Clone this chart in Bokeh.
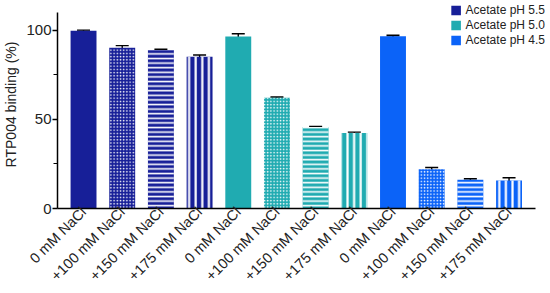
import math
from bokeh.plotting import figure
from bokeh.models import (ColumnDataSource, Range1d, FixedTicker, Whisker,
                          Legend, LegendItem)
from bokeh.embed import file_html
from bokeh.resources import INLINE

# ---- data ----
conditions = ["0 mM NaCl", "+100 mM NaCl", "+150 mM NaCl", "+175 mM NaCl"]
buffers = ["Acetate pH 5.5", "Acetate pH 5.0", "Acetate pH 4.5"]
binding_ph55 = [99.8, 90.3, 89.0, 85.2]
binding_ph50 = [96.6, 62.2, 45.8, 42.4]
binding_ph45 = [96.8, 22.0, 16.2, 15.8]
err_ph55 = [0.4, 1.2, 0.5, 1.0]
err_ph50 = [1.6, 0.4, 0.3, 0.5]
err_ph45 = [0.5, 1.0, 0.5, 1.5]

colors = ["#171f98", "#20abb1", "#0b63f8"]
patterns = [" ", ".", "-", "|"]
pattern_scales = [4, 3.2, 4.6, 6.6]
pattern_weights = [1, 0.9, 1.6, 2.2]

values = binding_ph55 + binding_ph50 + binding_ph45
errors = err_ph55 + err_ph50 + err_ph45
n = len(values)
xs = list(range(n))
labels = conditions * 3
fill = [colors[i // 4] for i in range(n)]
hp = [patterns[i % 4] for i in range(n)]
hs = [pattern_scales[i % 4] for i in range(n)]
hw = [pattern_weights[i % 4] for i in range(n)]

src = ColumnDataSource(dict(
    x=xs, top=values, fill=fill, hp=hp, hs=hs, hw=hw,
    upper=[v + e for v, e in zip(values, errors)],
    lower=[v - e for v, e in zip(values, errors)],
))

FONT = "Liberation Sans"
TXT = "#222222"

p = figure(width=550, height=293, output_backend="svg", toolbar_location=None,
           x_range=Range1d(-0.673, 12.02), y_range=Range1d(0, 116.85),
           min_border_left=48, min_border_right=2, min_border_top=0,
           min_border_bottom=85)
p.outline_line_color = None
p.xgrid.grid_line_color = None
p.ygrid.grid_line_color = None
p.background_fill_color = "white"

p.vbar(x="x", top="top", width=0.67, source=src, fill_color="fill",
       line_color=None, hatch_pattern="hp", hatch_color="white",
       hatch_scale="hs", hatch_weight="hw")

w = Whisker(base="x", upper="upper", lower="lower", source=src,
            line_color="black", line_width=1.4)
for h in (w.upper_head, w.lower_head):
    h.size = 13
    h.line_width = 1.4
    h.line_color = "black"
p.add_layout(w)

# legend proxies (drawn outside the visible range)
items = []
for b, c in zip(buffers, colors):
    r = p.vbar(x=[-50], top=[1], width=0.5, fill_color=c, line_color=None)
    items.append(LegendItem(label=b, renderers=[r]))
leg = Legend(items=items, location="top_right", margin=3, padding=0,
             spacing=1, glyph_width=12, glyph_height=12, label_standoff=4,
             label_height=12,
             label_text_font=FONT, label_text_font_size="12px",
             label_text_color=TXT, border_line_color=None,
             background_fill_alpha=0)
p.add_layout(leg)

# y axis
ya = p.yaxis[0]
ya.ticker = FixedTicker(ticks=[0, 50, 100], minor_ticks=[25, 75])
ya.bounds = (0, 110)
ya.axis_label = "RTP004 binding (%)"
ya.axis_label_text_font = FONT
ya.axis_label_text_font_style = "normal"
ya.axis_label_text_font_size = "14px"
ya.axis_label_text_color = TXT
ya.axis_label_standoff = 4
ya.major_label_text_font = FONT
ya.major_label_text_font_size = "15px"
ya.major_label_text_color = TXT
ya.major_label_standoff = 1
ya.axis_line_width = 1.5
ya.axis_line_color = "black"
ya.major_tick_out = 5
ya.major_tick_in = 0
ya.minor_tick_out = 4
ya.minor_tick_in = 0
ya.major_tick_line_width = 1.5
ya.minor_tick_line_width = 1.2

# x axis
xa = p.xaxis[0]
xa.ticker = FixedTicker(ticks=xs)
xa.major_label_overrides = {i: lab for i, lab in zip(xs, labels)}
xa.bounds = (-0.673, 11.69)
xa.major_label_orientation = math.pi / 4
xa.major_label_text_font = FONT
xa.major_label_text_font_size = "14.5px"
xa.major_label_text_color = TXT
xa.major_label_standoff = 1
xa.major_tick_out = 0
xa.major_tick_in = 0
xa.minor_tick_out = 0
xa.minor_tick_in = 0
xa.major_tick_line_color = None
xa.minor_tick_line_color = None
xa.axis_line_width = 1.5
xa.axis_line_color = "black"

open("out.html", "w").write(file_html(p, INLINE))
